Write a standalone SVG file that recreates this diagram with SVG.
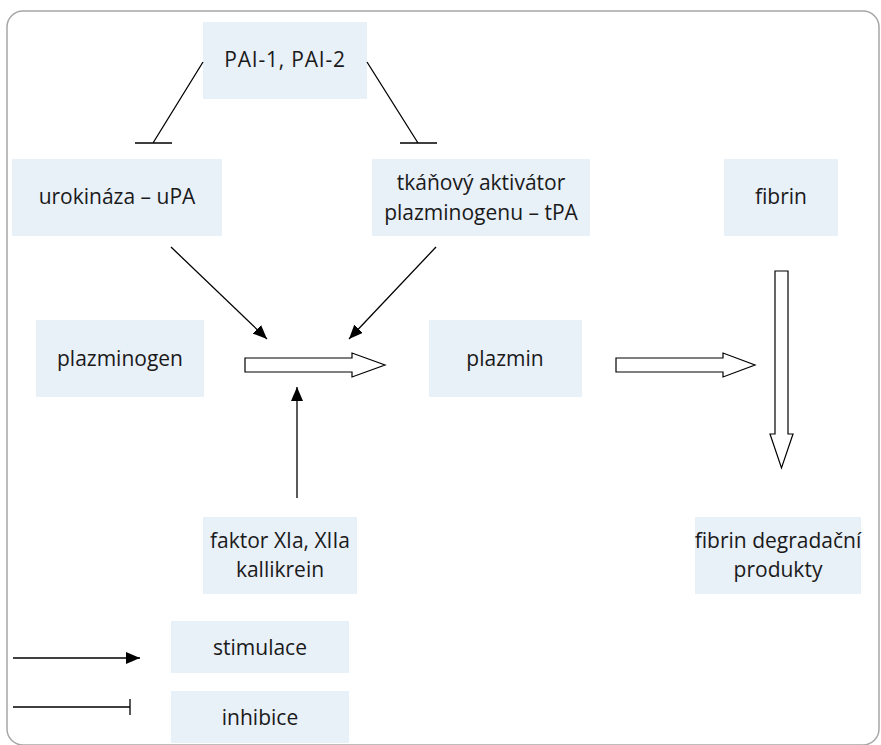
<svg xmlns="http://www.w3.org/2000/svg" width="881" height="745" viewBox="0 0 881 745">
<style>
.box{fill:#e8f0f8;stroke:none}
.t{font-family:"Open Sans","Liberation Sans",sans-serif;font-size:21px;fill:#1a1a1a;text-anchor:middle}
.ln{stroke:#000;stroke-width:1.3;fill:none}
.hol{stroke:#000;stroke-width:1.2;fill:#fff}
</style>
<defs>
<marker id="ah" viewBox="0 0 14 12" refX="14" refY="6" markerWidth="14" markerHeight="12" markerUnits="userSpaceOnUse" orient="auto">
<path d="M0,0 L14,6 L0,12 Z" fill="#000"/>
</marker>
</defs>
<rect x="7" y="11" width="872" height="734" rx="16" fill="#fff" stroke="#a6a6a6" stroke-width="1.5"/>
<g id="pai"><rect class="box" x="203" y="22" width="164" height="77"/><text class="t" x="285" y="67" style="letter-spacing:0.8px">PAI-1, PAI-2</text></g>
<g id="upa"><rect class="box" x="12" y="159" width="210" height="77"/><text class="t" x="117" y="204">urokináza – uPA</text></g>
<g id="tpa"><rect class="box" x="372" y="159" width="218" height="77"/><text class="t" x="481" y="190">tkáňový aktivátor</text><text class="t" x="481" y="220">plazminogenu – tPA</text></g>
<g id="fibrin"><rect class="box" x="724" y="159" width="114" height="77"/><text class="t" x="781" y="204">fibrin</text></g>
<g id="plazminogen"><rect class="box" x="36" y="320" width="168" height="77"/><text class="t" x="120" y="366">plazminogen</text></g>
<g id="plazmin"><rect class="box" x="429" y="320" width="153" height="77"/><text class="t" x="505" y="366">plazmin</text></g>
<g id="faktor"><rect class="box" x="203" y="517" width="154" height="77"/><text class="t" x="280" y="548">faktor XIa, XIIa</text><text class="t" x="280" y="577">kallikrein</text></g>
<g id="fdp"><rect class="box" x="695" y="517" width="166" height="77"/><text class="t" x="778" y="548">fibrin degradační</text><text class="t" x="778" y="577">produkty</text></g>
<g id="stimulace"><rect class="box" x="171" y="621" width="178" height="52"/><text class="t" x="260" y="655">stimulace</text></g>
<g id="inhibice"><rect class="box" x="171" y="691" width="178" height="52"/><text class="t" x="260" y="725">inhibice</text></g>
<g id="connectors">
<path class="ln" d="M203,62 L153,143 M135,143 L172,143"/>
<path class="ln" d="M367,62 L418,143 M400,143 L437,143"/>
<path class="ln" d="M171,247 L267,339" marker-end="url(#ah)"/>
<path class="ln" d="M436,247 L349,339" marker-end="url(#ah)"/>
<path class="ln" d="M297,498 L297,387" marker-end="url(#ah)"/>
<polygon class="hol" points="245,358 352,358 352,353 385,365 352,377 352,372 245,372"/>
<polygon class="hol" points="616,358 723,358 723,353 755,365 723,377 723,372 616,372"/>
<polygon class="hol" points="775,271 788,271 788,434 793,434 781.5,468 770,434 775,434"/>
<path class="ln" d="M13,658 L140,658" marker-end="url(#ah)"/>
<path class="ln" d="M13,707 L130,707 M130,699 L130,715"/>
</g>
</svg>
